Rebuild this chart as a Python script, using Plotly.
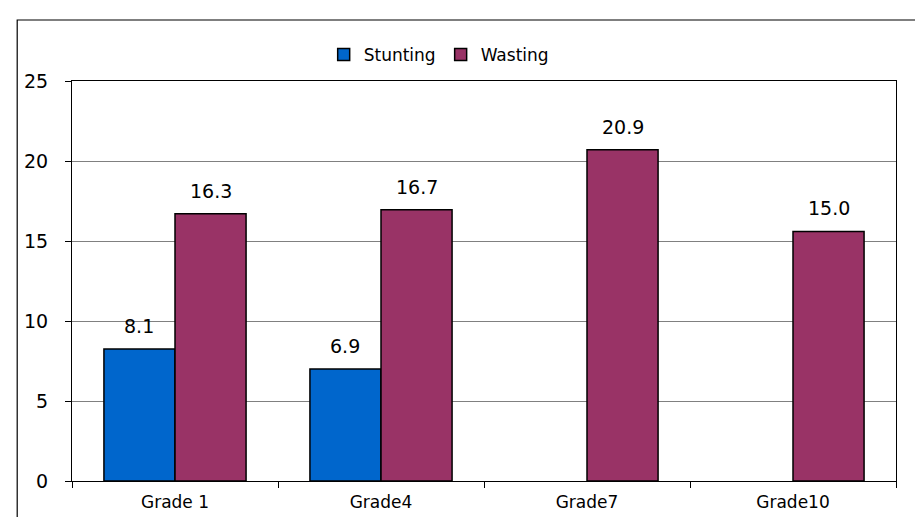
import plotly.graph_objects as go

categories = ["Grade 1", "Grade4", "Grade7", "Grade10"]
stunting_values = [8.25, 7.0, None, None]
wasting_values = [16.7, 16.95, 20.7, 15.6]
stunting_labels = ["8.1", "6.9", "", ""]
wasting_labels = ["16.3", "16.7", "20.9", "15.0"]
y_ticks = [0, 5, 10, 15, 20, 25]

STUNT_COLOR = "#0066CC"
WAST_COLOR = "#993366"
FONT = "DejaVu Sans"

fig = go.Figure()
fig.add_trace(go.Bar(x=categories, y=stunting_values, name="Stunting",
                     marker=dict(color=STUNT_COLOR, line=dict(color="black", width=1.5))))
fig.add_trace(go.Bar(x=categories, y=wasting_values, name="Wasting",
                     marker=dict(color=WAST_COLOR, line=dict(color="black", width=1.5))))

annotations = []
for cat, v, lab in zip(categories, stunting_values, stunting_labels):
    if v is not None and lab:
        annotations.append(dict(x=cat, y=v, text=lab, xref="x", yref="y", showarrow=False,
                                xshift=-36, yshift=10, yanchor="bottom",
                                font=dict(family=FONT, size=19, color="black")))
for cat, v, lab in zip(categories, wasting_values, wasting_labels):
    if v is not None and lab:
        annotations.append(dict(x=cat, y=v, text=lab, xref="x", yref="y", showarrow=False,
                                xshift=36, yshift=10, yanchor="bottom",
                                font=dict(family=FONT, size=19, color="black")))

fig.update_layout(
    width=923, height=517,
    margin=dict(l=64, r=35, t=73, b=44),
    paper_bgcolor="white", plot_bgcolor="white",
    barmode="group", bargap=0.31, bargroupgap=0,
    font=dict(family=FONT, size=15, color="black"),
    showlegend=True,
    legend=dict(orientation="h", x=0.445, xanchor="center", y=1.065, yanchor="middle",
                font=dict(family=FONT, size=17), itemwidth=30, tracegroupgap=0,
                bgcolor="rgba(0,0,0,0)"),
    annotations=annotations,
    shapes=[dict(type="rect", xref="paper", yref="paper",
                 x0=-0.0665, x1=1.06, y0=-0.13, y1=1.1525,
                 line=dict(color="black", width=1.2), fillcolor="rgba(0,0,0,0)", layer="below")],
)
fig.update_xaxes(type="category", tickson="boundaries", ticks="outside", ticklen=6,
                 tickcolor="black", showline=True, linecolor="black", linewidth=1.2,
                 mirror=True, showgrid=False, ticklabelstandoff=5,
                 tickfont=dict(family=FONT, size=17))
fig.update_yaxes(range=[0, 25], tickvals=y_ticks, ticks="outside", ticklen=6, tickcolor="black",
                 showline=True, linecolor="black", linewidth=1.2, mirror=True,
                 showgrid=True, gridcolor="#808080", gridwidth=1, zeroline=False,
                 ticklabelstandoff=13, tickfont=dict(family=FONT, size=19))

fig.write_html("out.html")
